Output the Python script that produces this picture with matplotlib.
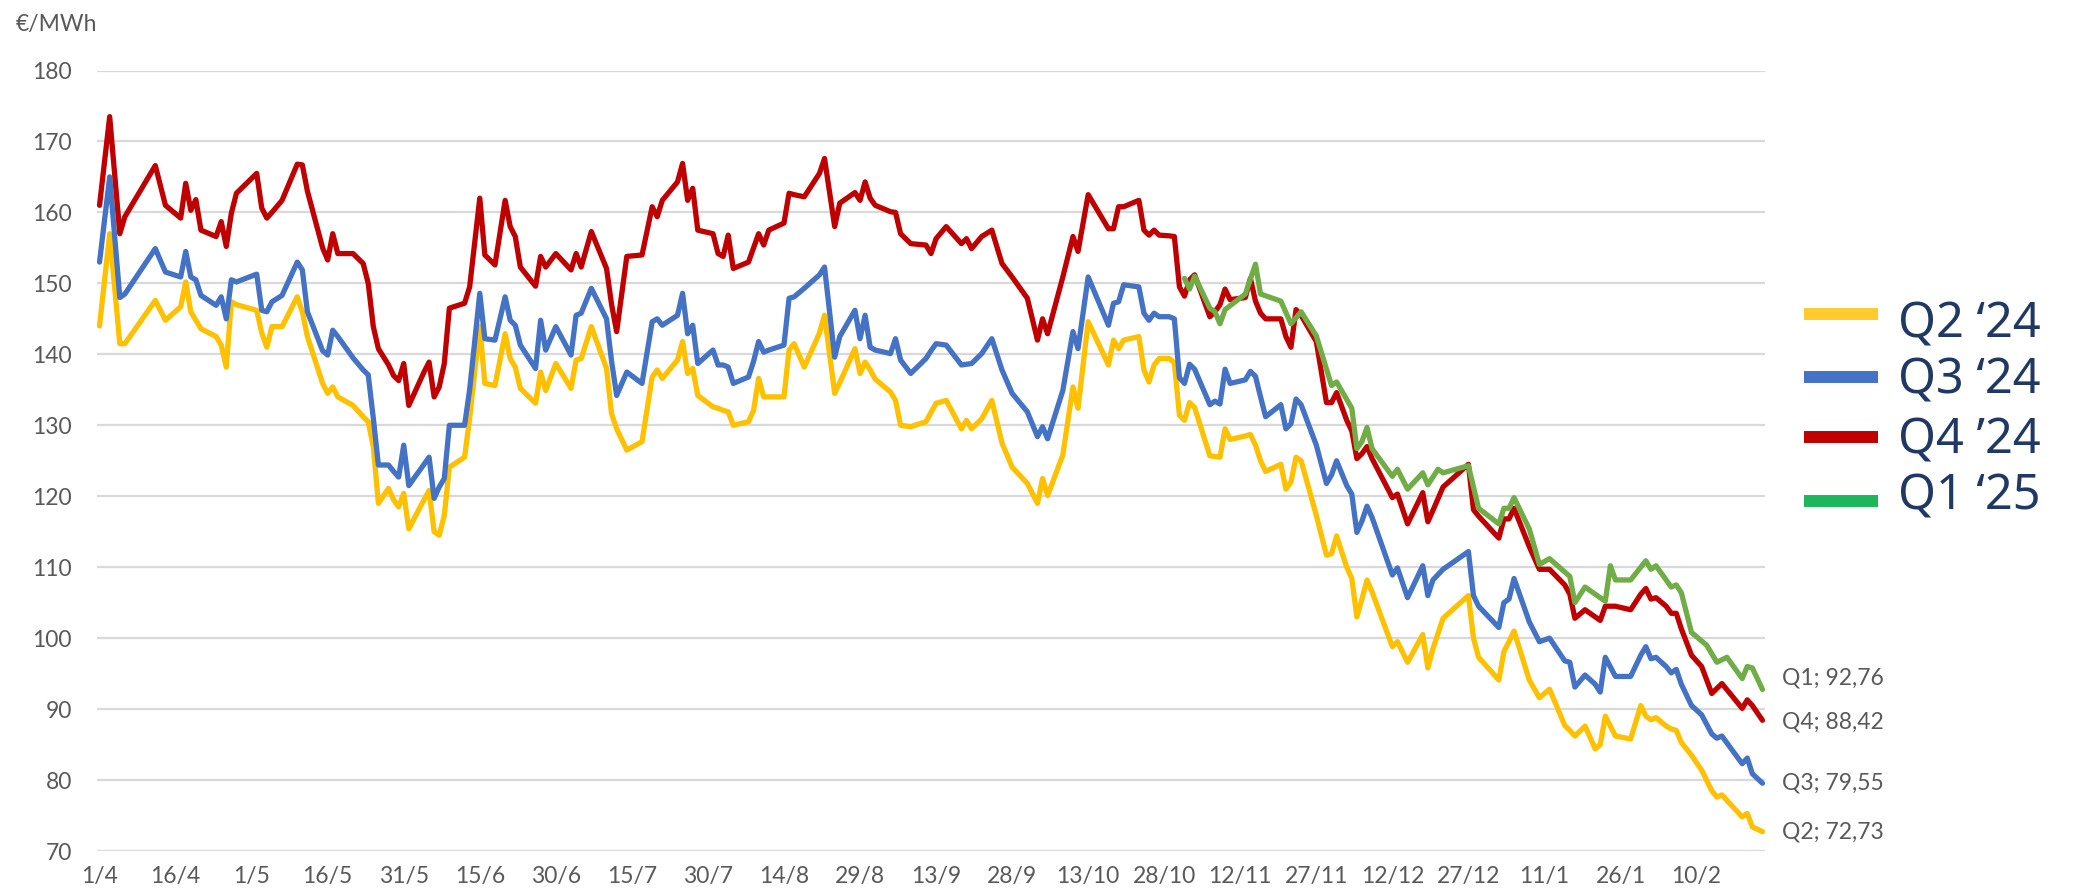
import pandas as pd
import numpy as np
import matplotlib
matplotlib.use('Agg')
import matplotlib.pyplot as plt
from matplotlib.lines import Line2D

# days counted from 1 April 2023
start = pd.Timestamp('2023-04-01')

days = [0, 2, 4, 5, 11, 13, 16, 17, 18, 19,
        20, 23, 24, 25, 26, 27, 31, 32, 33, 34,
        36, 39, 40, 41, 44, 45, 46, 47, 50, 52,
        53, 54, 55, 57, 58, 59, 60, 61, 64, 65,
        66, 67, 68, 69, 72, 73, 75, 76, 78, 80,
        81, 82, 83, 86, 87, 88, 90, 93, 94, 95,
        97, 100, 101, 102, 104, 107, 109, 110, 111, 114,
        115, 116, 117, 118, 121, 122, 123, 124, 125, 128,
        129, 130, 131, 132, 135, 136, 137, 139, 142, 143,
        145, 146, 149, 150, 151, 152, 153, 156, 157, 158,
        160, 163, 164, 165, 167, 170, 171, 172, 174, 176,
        178, 180, 183, 185, 186, 187, 190, 192, 193, 195,
        199, 200, 201, 202, 205, 206, 207, 208, 209, 211,
        212, 213, 214, 215, 216, 219, 220, 221, 222, 223,
        226, 227, 228, 229, 230, 233, 234, 235, 236, 237,
        240, 242, 243, 244, 246, 247, 248, 249, 250, 251,
        255, 256, 258, 261, 262, 263, 265, 270, 271, 272,
        276, 277, 278, 279, 282, 284, 286, 289, 290, 291,
        293, 295, 296, 297, 299, 302, 304, 305, 306, 307,
        309, 310, 311, 312, 314, 316, 318, 319, 320, 324,
        325, 326, 328]

q4 = [161, 173.5, 157, 159.4, 166.6, 161, 159.2, 164.1, 160.3, 161.8,
      157.5, 156.6, 158.7, 155.2, 159.9, 162.7, 165.5, 160.6, 159.2, 160,
      161.7, 166.8, 166.7, 163, 155, 153.3, 157, 154.2, 154.2, 152.8,
      150, 143.9, 140.8, 138.5, 137, 136.3, 138.7, 132.8, 137.5, 138.9,
      134, 135.4, 138.7, 146.5, 147.2, 149.5, 162, 154, 152.6, 161.7,
      158, 156.6, 152.3, 149.6, 153.8, 152.3, 154.2, 151.9, 154.2, 152.3,
      157.3, 152.1, 147, 143.2, 153.8, 154, 160.8, 159.4, 161.7, 164.3,
      166.9, 161.7, 163.4, 157.5, 157, 154.2, 153.8, 156.8, 152.1, 153,
      155, 157, 155.4, 157.5, 158.5, 162.7, 162.5, 162.2, 165.5, 167.6,
      158, 161.3, 162.8, 161.7, 164.3, 162, 161, 160.1, 160, 157,
      155.6, 155.4, 154.2, 156.3, 158, 155.6, 156.3, 154.9, 156.6, 157.5,
      152.8, 150.9, 147.9, 142, 145, 142.9, 150.9, 156.6, 154.5, 162.5,
      157.7, 157.7, 160.8, 160.8, 161.7, 157.5, 156.8, 157.5, 156.8, 156.7,
      156.6, 149.5, 148.2, 150.5, 151.2, 145.3, 146, 147, 149.2, 147.7,
      148, 150.7, 147.5, 145.8, 145, 145, 142.5, 141, 146.3, 145.5,
      141.8, 133.2, 133.2, 134.6, 130.7, 129.2, 125.3, 126, 127, 125.3,
      119.8, 120.3, 116.1, 120.5, 116.4, 118, 121.3, 124.5, 118.1, 117.2,
      114.1, 116.8, 116.8, 118.3, 112.9, 109.7, 109.7, 107.5, 106.2, 102.8,
      104, 103, 102.5, 104.5, 104.5, 104, 106.2, 107, 105.5, 105.7,
      104.5, 103.5, 103.5, 101.3, 97.6, 96, 92.2, 92.9, 93.6, 90.1,
      91.3, 90.5, 88.42]

q3 = [153, 165, 148, 148.5, 154.9, 151.6, 150.9, 154.5, 150.9, 150.5,
      148.3, 146.9, 148.1, 145, 150.5, 150.2, 151.3, 146.2, 146, 147.4,
      148.3, 153, 151.9, 146, 140.5, 139.9, 143.4, 142.5, 139.5, 137.8,
      137.1, 131, 124.4, 124.4, 123.5, 122.7, 127.2, 121.5, 124.5, 125.5,
      119.7, 121.3, 122.5, 130, 130, 135, 148.6, 142.2, 142, 148.1,
      144.8, 144.1, 141.3, 138, 144.8, 140.6, 143.9, 139.9, 145.5, 145.8,
      149.3, 145, 139, 134.2, 137.5, 135.9, 144.6, 145, 144.1, 145.5,
      148.6, 142.9, 144.1, 138.7, 140.6, 138.5, 138.5, 138.2, 135.9, 136.8,
      139, 141.8, 140.3, 140.6, 141.3, 147.9, 148.1, 149.3, 151.2, 152.3,
      139.6, 142.5, 146.2, 142.2, 145.5, 141, 140.6, 140.1, 142.2, 139.2,
      137.3, 139.4, 140.5, 141.5, 141.3, 138.5, 138.6, 138.7, 140.1, 142.2,
      137.8, 134.5, 131.9, 128.4, 129.8, 128.1, 134.9, 143.2, 140.8, 150.9,
      144.1, 147.2, 147.4, 149.8, 149.5, 145.8, 144.8, 145.8, 145.3, 145.3,
      145, 136.7, 135.9, 138.6, 137.9, 132.9, 133.4, 133, 137.9, 135.9,
      136.4, 137.6, 136.9, 134, 131.2, 132.9, 129.5, 130.2, 133.7, 132.9,
      127.2, 121.8, 123, 125, 121.5, 120.3, 114.9, 116.5, 118.6, 117,
      108.9, 109.9, 105.7, 110.2, 106, 108.2, 109.7, 112.2, 106, 104.5,
      101.5, 105, 105.5, 108.4, 102.3, 99.5, 100, 96.8, 96.6, 93.1,
      94.8, 93.5, 92.4, 97.3, 94.6, 94.6, 97.6, 98.8, 97.1, 97.3,
      96, 95.1, 95.6, 93.5, 90.5, 89.2, 86.5, 85.9, 86.2, 82.3,
      83.1, 80.9, 79.55]

q2 = [144, 157, 141.5, 141.5, 147.6, 144.8, 146.7, 150.2, 146, 144.8,
      143.6, 142.5, 141.3, 138.2, 147.4, 147, 146.2, 143, 141, 143.9,
      143.9, 148.1, 146, 142.5, 135.9, 134.5, 135.4, 134, 132.8, 131.2,
      130.5, 127, 119, 121.1, 119.5, 118.5, 120.4, 115.4, 119.5, 120.8,
      115, 114.5, 117.3, 124.1, 125.5, 131, 143.9, 135.9, 135.6, 142.9,
      139.4, 138.2, 135.2, 133.1, 137.5, 134.9, 138.7, 135.2, 139.2, 139.4,
      143.9, 138, 131.6, 129.5, 126.5, 127.7, 136.8, 137.8, 136.6, 139.2,
      141.8, 137.3, 138, 134.2, 132.6, 132.4, 132.1, 131.9, 130, 130.5,
      132.1, 136.6, 134, 134, 134, 140.6, 141.5, 138.2, 143, 145.5,
      134.5, 136, 140.8, 137.3, 138.9, 137.8, 136.5, 134.7, 133.5, 130,
      129.8, 130.5, 131.8, 133.1, 133.5, 129.5, 130.7, 129.5, 130.9, 133.5,
      127.5, 124.1, 121.8, 119, 122.5, 120.1, 125.8, 135.4, 132.4, 144.6,
      138.5, 142, 140.8, 142, 142.5, 137.8, 136.1, 138.5, 139.4, 139.4,
      138.8, 131.4, 130.7, 133.2, 132.5, 125.7, 125.6, 125.5, 129.5, 128,
      128.5, 128.7, 127.2, 125, 123.5, 124.5, 121, 122, 125.5, 125,
      117.3, 111.7, 111.9, 114.4, 110, 108.4, 103, 105.5, 108.2, 106.5,
      98.8, 99.5, 96.6, 100.5, 95.8, 98.5, 102.8, 106, 100, 97.3,
      94.1, 98.1, 99.5, 101, 94.1, 91.6, 92.8, 87.7, 87, 86.2,
      87.6, 84.4, 85, 89, 86.2, 85.8, 90.5, 89, 88.5, 88.8,
      87.6, 87.2, 87, 85.3, 83.5, 81.4, 78.5, 77.6, 77.9, 74.8,
      75.3, 73.4, 72.73]

q1_days = [214, 215, 216, 219, 220, 221, 222, 226, 228, 229,
           231, 233, 235, 237, 240, 243, 244, 247, 248, 249,
           250, 251, 255, 256, 258, 261, 262, 264, 265, 270,
           272, 276, 277, 278, 279, 282, 284, 286, 290, 291,
           293, 297, 298, 299, 302, 305, 306, 307, 310, 311,
           312, 314, 317, 319, 321, 324, 325, 326, 328]
q1 = [150.7, 149.2, 151, 146.5, 146, 144.3, 146.3, 148.5, 152.7, 148.5,
      148, 147.5, 144.3, 146, 142.6, 135.6, 136.1, 132.4, 126.7, 127.7,
      129.7, 126.7, 122.8, 123.8, 121, 123.3, 121.6, 123.8, 123.3, 124.3,
      118.3, 116.1, 118.3, 118.3, 119.8, 115.4, 110.4, 111.2, 108.7, 105,
      107.2, 105.2, 110.2, 108.2, 108.2, 110.9, 109.7, 110.2, 107.2, 107.5,
      106.4, 100.8, 99, 96.6, 97.3, 94.3, 96, 95.8, 92.76]

legend_labels = ['Q2 \u201824', 'Q3 \u201824', 'Q4 \u201924', 'Q1 \u201825']
end_names = ['Q2', 'Q3', 'Q4', 'Q1']

line_colors = ['#FFC000', '#4472C4', '#C00000', '#70AD47']
legend_colors = ['#FFCA2E', '#4472C4', '#C00000', '#1BB75A']

W, H = 2078, 891
fig = plt.figure(figsize=(W / 100, H / 100), dpi=100)
ax = fig.add_axes([97 / W, 1 - 851 / H, (1765 - 97) / W, (851 - 70.5) / H])

dates = start + pd.to_timedelta(days, unit='D')
q1_dates = start + pd.to_timedelta(q1_days, unit='D')
all_series = [(dates, q2), (dates, q3), (dates, q4), (q1_dates, q1)]
label_dy = [0, 0, -1, 8]

for (x, y), c, name, dy in zip(all_series, line_colors, end_names, label_dy):
    ax.plot(x, y, color=c, lw=3.8, solid_joinstyle='round', solid_capstyle='round')
    txt = '%s; %s' % (name, ('%.2f' % y[-1]).replace('.', ','))
    ax.annotate(txt, xy=(x[-1], y[-1]), xytext=(14, dy), textcoords='offset points',
                va='center', ha='left', fontsize=16.5, color='#595959',
                family=['Lato', 'DejaVu Sans'], annotation_clip=False)

ax.set_ylim(70, 180)
ax.set_yticks(range(70, 181, 10))
ax.set_xlim(start - pd.Timedelta(hours=12), start + pd.Timedelta(days=328, hours=12))
tick_dates = start + pd.to_timedelta(np.arange(0, 316, 15), unit='D')
ax.set_xticks(tick_dates)
ax.set_xticklabels(['%d/%d' % (t.day, t.month) for t in tick_dates])

ax.yaxis.grid(True, color='#D9D9D9', lw=1.6)
ax.set_axisbelow(True)
for s in ['top', 'bottom', 'left', 'right']:
    ax.spines[s].set_visible(False)
ax.tick_params(axis='both', length=0, labelsize=16.5, colors='#595959')
ax.tick_params(axis='y', pad=18)
ax.tick_params(axis='x', pad=11)
for lab in ax.get_xticklabels() + ax.get_yticklabels():
    lab.set_family(['Lato', 'DejaVu Sans'])

fig.text(16 / W, 1 - 24 / H, '\u20ac/MWh', va='center', ha='left', fontsize=16.5,
         color='#595959', family=['Lato', 'DejaVu Sans'])

# legend drawn by hand on the right
line_y = [314, 377, 437, 501]
text_y = [324, 381, 440, 497]
for lab, c, ly, ty in zip(legend_labels, legend_colors, line_y, text_y):
    fig.add_artist(Line2D([1804 / W, 1878 / W], [1 - ly / H, 1 - ly / H],
                          color=c, lw=8.6, solid_capstyle='butt'))
    fig.text(1898 / W, 1 - ty / H, lab, va='center', ha='left', fontsize=35,
             color='#1F3864', family=['Noto Sans', 'DejaVu Sans'])

fig.savefig('out.png', dpi=100)
